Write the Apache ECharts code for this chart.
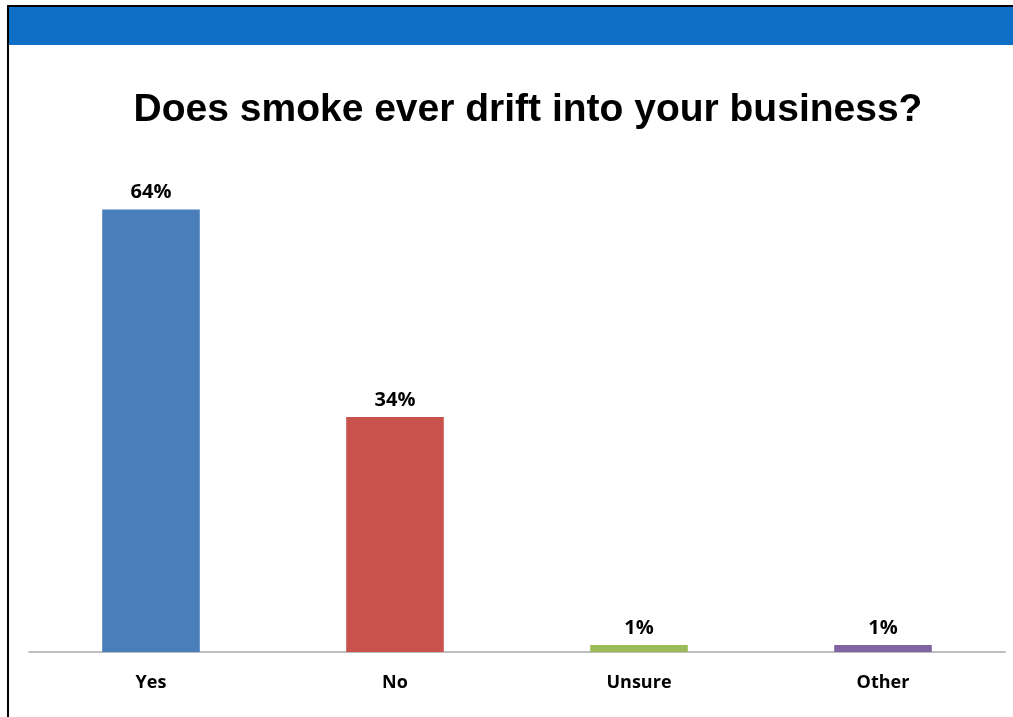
<!DOCTYPE html>
<html>
<head>
<meta charset="utf-8">
<script src="https://cdn.jsdelivr.net/npm/echarts@6/dist/echarts.min.js"></script>
<style>
  html, body { margin: 0; padding: 0; background: #fff; }
  #chart { width: 1013px; height: 717px; }
</style>
</head>
<body>
<div id="chart"></div>
<script>
// Survey responses
const categories = ['Yes', 'No', 'Unsure', 'Other'];
const percentages = [64, 34, 1, 1];
const barColors = ['#4A7EBB', '#C9524F', '#9BBB59', '#8064A2'];

const chart = echarts.init(document.getElementById('chart'), null, { renderer: 'canvas' });

chart.setOption({
  animation: false,
  backgroundColor: '#ffffff',
  title: {
    text: 'Does smoke ever drift into your business?',
    left: 523,
    textAlign: 'center',
    top: 86,
    textStyle: {
      fontFamily: 'Liberation Sans, Arial, sans-serif',
      fontWeight: 'bold',
      fontSize: 39,
      color: '#000'
    }
  },
  graphic: [
    // header band
    { type: 'rect', shape: { x: 8, y: 7, width: 1005, height: 38 }, style: { fill: '#0F6FC6' }, z: 1 },
    // frame lines
    { type: 'line', shape: { x1: 7, y1: 6, x2: 1013, y2: 6 }, style: { stroke: '#000', lineWidth: 2 }, z: 2 },
    { type: 'line', shape: { x1: 8, y1: 5, x2: 8, y2: 717 }, style: { stroke: '#000', lineWidth: 2 }, z: 2 }
  ],
  grid: { left: 29, right: 8, top: 168, bottom: 65, containLabel: false },
  xAxis: {
    type: 'category',
    data: categories,
    axisLine: { show: true, lineStyle: { color: '#BEBEBE', width: 2 } },
    axisTick: { show: false },
    axisLabel: {
      margin: 22,
      fontFamily: 'Open Sans, sans-serif',
      fontWeight: 'bold',
      fontSize: 18,
      color: '#000'
    }
  },
  yAxis: {
    type: 'value',
    min: 0,
    max: 70,
    show: false,
    splitLine: { show: false }
  },
  series: [{
    type: 'bar',
    data: percentages.map((v, i) => ({ value: v, itemStyle: { color: barColors[i] } })),
    barWidth: '40%',
    label: {
      show: true,
      position: 'top',
      distance: 7,
      formatter: p => p.value + '%',
      fontFamily: 'Open Sans, sans-serif',
      fontWeight: 'bold',
      fontSize: 20,
      color: '#000'
    }
  }]
});
</script>
</body>
</html>
